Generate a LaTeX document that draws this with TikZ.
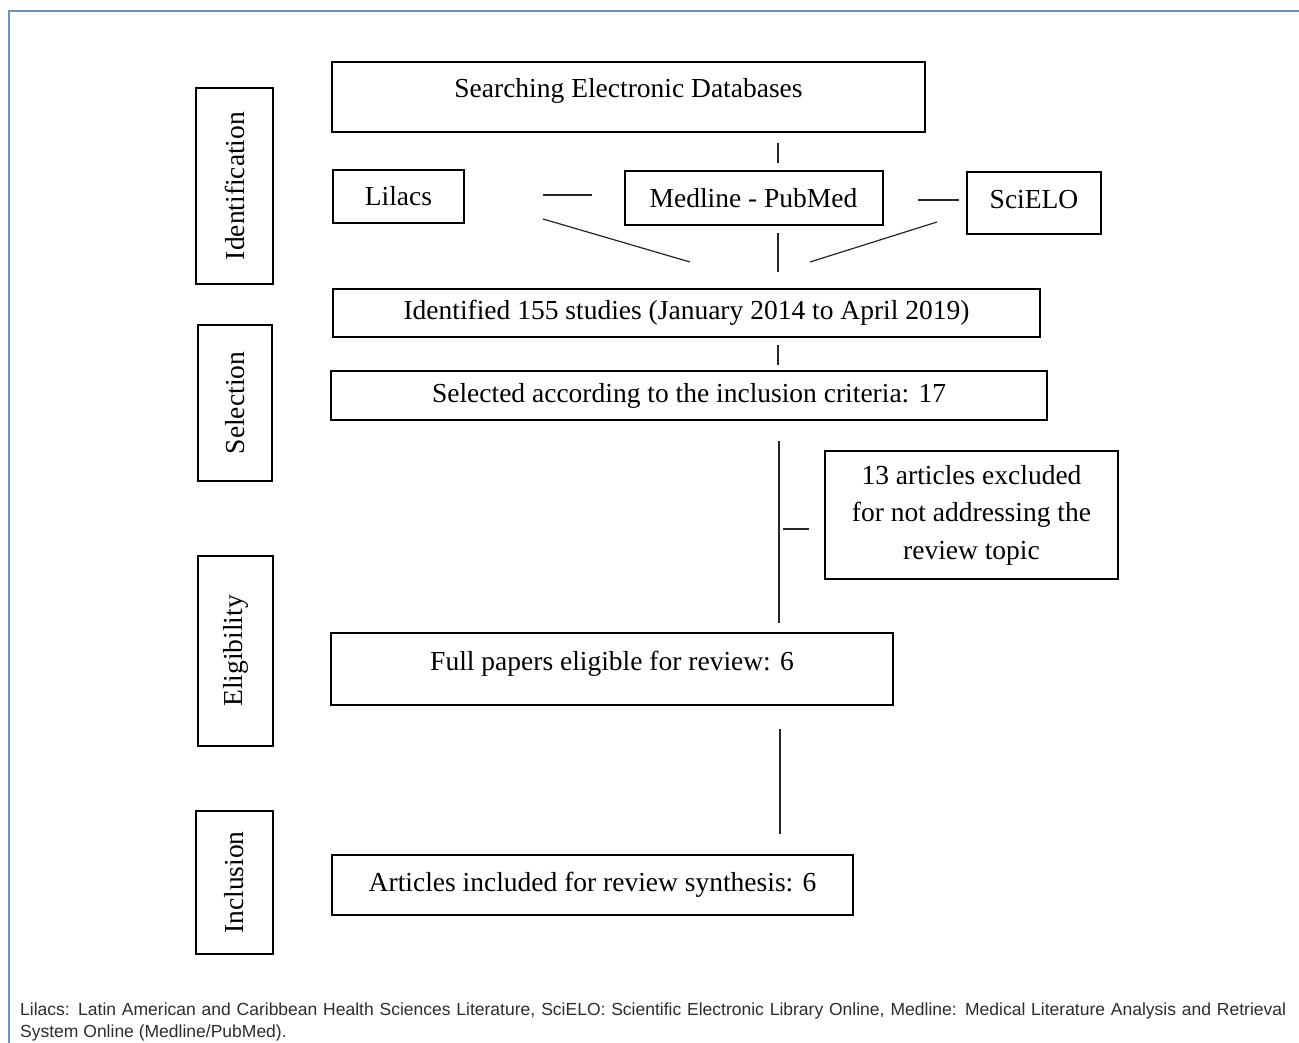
\documentclass[tikz,border=0pt]{standalone}
\usepackage{fontspec}
\setmainfont{Liberation Serif}
\newfontfamily\footfont{Liberation Sans}
\definecolor{framecol}{RGB}{112,146,176}
\definecolor{footcol}{RGB}{45,45,45}
\begin{document}
\begin{tikzpicture}[x=1pt,y=-1pt,
  box/.style={draw=black, line width=2pt, inner sep=0pt, font=\fontsize{27.5}{33}\selectfont, align=center},
  vbox/.style={box, rotate=90},
  txt/.style={inner sep=0pt, font=\fontsize{27.5}{33}\selectfont, align=center},
  conn/.style={draw=black!85, line width=1.2pt},
  frame/.style={draw=framecol, line width=1.5pt},
  foot/.style={inner sep=0pt, anchor=base west, text=footcol, font=\footfont\fontsize{17.5}{21}\selectfont}]
\useasboundingbox (0,0) rectangle (1299,1043);
\fill[white] (0,0) rectangle (1299,1043);
\draw[frame] (9,1043) -- (9,11) -- (1299,11);

% phase boxes
\node[vbox, minimum width=196pt, minimum height=77pt] (idf) at (234.5,186) {Identification};
\node[vbox, minimum width=156pt, minimum height=74pt] (sel) at (235,403) {Selection};
\node[vbox, minimum width=190pt, minimum height=75pt] (elig) at (235.5,651) {Eligibility};
\node[vbox, minimum width=143pt, minimum height=77pt] (incl) at (234.5,882.5) {Inclusion};

% flow boxes
\node[box, minimum width=593pt, minimum height=70pt] (search) at (628.5,97) {};
\node[txt] (searcht) at (628.5,91) {Searching Electronic Databases};
\node[box, minimum width=131pt, minimum height=53pt] (lilacs) at (398.5,196.5) {Lilacs};
\node[box, minimum width=258pt, minimum height=54pt] (medline) at (753.5,198) {Medline - PubMed};
\node[box, minimum width=134pt, minimum height=62pt] (scielo) at (1034,203) {};
\node[txt] (scielot) at (1034,200) {SciELO};
\node[box, minimum width=707pt, minimum height=48pt] (ident) at (686.5,313) {Identified 155 studies (January 2014 to April 2019)};
\node[box, minimum width=716pt, minimum height=49pt] (selected) at (689,395.5) {Selected according to the inclusion criteria: 17};
\node[box, minimum width=293pt, minimum height=128pt, font=\fontsize{27.5}{37.5}\selectfont] (excl) at (971.5,515) {13 articles excluded\\for not addressing the\\review topic};
\node[box, minimum width=562pt, minimum height=72pt] (full) at (612,669) {};
\node[txt] (fullt) at (612,664) {Full papers eligible for review: 6};
\node[box, minimum width=521pt, minimum height=60pt] (articles) at (592.5,885) {Articles included for review synthesis: 6};

% connector end points
\coordinate (a1) at (778,143); \coordinate (a2) at (778,163);
\coordinate (b1) at (543,195); \coordinate (b2) at (592,195);
\coordinate (c1) at (918,200); \coordinate (c2) at (959,200);
\coordinate (d1) at (543,219); \coordinate (d2) at (690,262);
\coordinate (e1) at (778,233); \coordinate (e2) at (778,272);
\coordinate (f1) at (937,222); \coordinate (f2) at (810,262);
\coordinate (g1) at (778,345); \coordinate (g2) at (778,365);
\coordinate (h1) at (779,441); \coordinate (h2) at (779,623);
\coordinate (i1) at (783,529); \coordinate (i2) at (809,529);
\coordinate (j1) at (780,729); \coordinate (j2) at (780,834);

\draw[conn] (a1) -- (a2);
\draw[conn] (b1) -- (b2);
\draw[conn] (c1) -- (c2);
\draw[conn] (d1) -- (d2);
\draw[conn] (e1) -- (e2);
\draw[conn] (f1) -- (f2);
\draw[conn] (g1) -- (g2);
\draw[conn] (h1) -- (h2);
\draw[conn] (i1) -- (i2);
\draw[conn] (j1) -- (j2);

% footnote
\node[foot] (foot1) at (20,1015) {\makebox[1266pt][s]{Lilacs: Latin American and Caribbean Health Sciences Literature, SciELO: Scientific Electronic Library Online, Medline: Medical Literature Analysis and Retrieval}};
\node[foot] (foot2) at (20,1037) {System Online (Medline/PubMed).};
\end{tikzpicture}
\end{document}
